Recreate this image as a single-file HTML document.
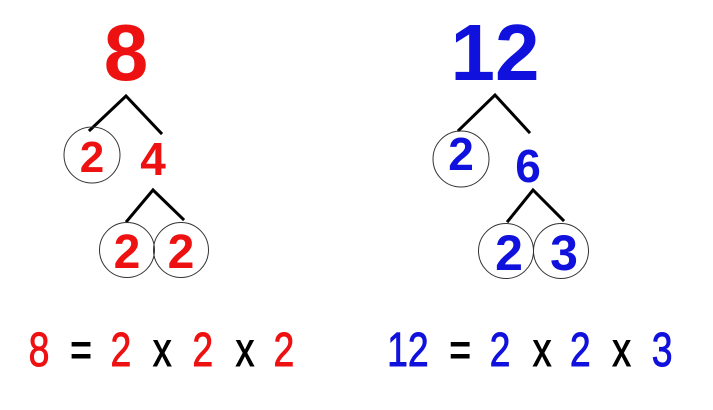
<!DOCTYPE html>
<html><head><meta charset="utf-8"><style>
html,body{margin:0;padding:0;background:#fff;}
svg{display:block;}
text{font-family:"Liberation Sans",sans-serif;text-anchor:middle;}
</style></head><body>
<svg width="713" height="410" viewBox="0 0 713 410" xmlns="http://www.w3.org/2000/svg">
<rect width="713" height="410" fill="#fff"/>
<g stroke="#000" stroke-width="3" fill="none" stroke-linecap="square">
<polyline points="90,130 126,96 161,133"/>
<polyline points="127,221 153,190 183,219"/>
<polyline points="459,130 495,95 529,132"/>
<polyline points="508,221 533,190 563,220"/>
</g>
<g stroke="#333" stroke-width="1" fill="none">
<circle cx="92" cy="155" r="28"/>
<circle cx="127" cy="250" r="27.5"/>
<circle cx="181" cy="250" r="27.5"/>
<circle cx="461" cy="159" r="28"/>
<circle cx="506" cy="251" r="27.5"/>
<circle cx="561" cy="251" r="27.5"/>
</g>
<g fill="#ee1111" font-weight="bold">
<text x="126" y="80" font-size="80">8</text>
<text x="92" y="172" font-size="44">2</text>
<text x="153" y="175" font-size="46">4</text>
<text x="127" y="268" font-size="48">2</text>
<text x="181" y="268" font-size="48">2</text>
</g>
<g fill="#1111dd" font-weight="bold">
<text x="495" y="80" font-size="80">12</text>
<text x="461" y="170" font-size="46">2</text>
<text x="528" y="182" font-size="46">6</text>
<text x="509" y="270" font-size="50">2</text>
<text x="564" y="270" font-size="50">3</text>
</g>
<g transform="scale(0.78,1)" font-size="48" stroke-width="0.9">
<text x="50" y="366" fill="#ee1111" stroke="#ee1111">8</text>
<text x="104" y="366" fill="#000" stroke="#000">=</text>
<text x="155" y="366" fill="#ee1111" stroke="#ee1111">2</text>
<text x="208" y="366" fill="#000" stroke="#000">x</text>
<text x="260" y="366" fill="#ee1111" stroke="#ee1111">2</text>
<text x="314" y="366" fill="#000" stroke="#000">x</text>
<text x="364" y="366" fill="#ee1111" stroke="#ee1111">2</text>
<text x="523" y="366" fill="#1111dd" stroke="#1111dd">12</text>
<text x="590" y="366" fill="#000" stroke="#000">=</text>
<text x="641" y="366" fill="#1111dd" stroke="#1111dd">2</text>
<text x="695" y="366" fill="#000" stroke="#000">x</text>
<text x="744" y="366" fill="#1111dd" stroke="#1111dd">2</text>
<text x="797" y="366" fill="#000" stroke="#000">x</text>
<text x="849" y="366" fill="#1111dd" stroke="#1111dd">3</text>
</g>
</svg>
</body></html>
